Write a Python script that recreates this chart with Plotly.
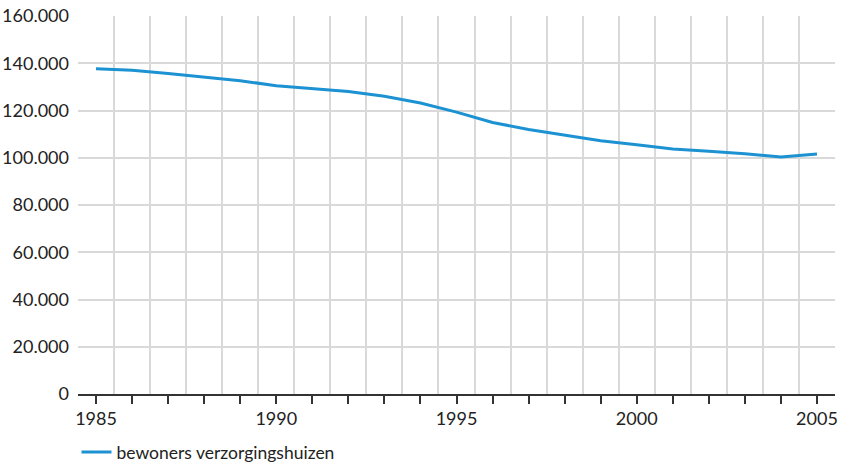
import plotly.graph_objects as go

years = list(range(1985, 2006))
bewoners = [137700, 137000, 135700, 134200, 132600, 130500, 129400, 128000,
            126000, 123200, 119300, 114900, 112000, 109600, 107200, 105500,
            103700, 102700, 101700, 100300, 101600]
year_labels = [str(y) if y % 5 == 0 else "" for y in years]
y_ticks = list(range(0, 160001, 20000))

fig = go.Figure(go.Scatter(
    x=years, y=bewoners, mode="lines", name="bewoners verzorgingshuizen",
    line=dict(color="#1c92d2", width=3),
))

fig.update_layout(
    width=841, height=462, plot_bgcolor="white", paper_bgcolor="white",
    separators=",.",
    font=dict(family="Lato, Open Sans, sans-serif", size=18, color="#222222"),
    margin=dict(l=78, r=6, t=16, b=68, autoexpand=False),
    showlegend=True,
    legend=dict(orientation="h", x=-0.002, xanchor="left", y=-0.106,
                yanchor="top", font=dict(size=17.5), itemwidth=30),
)
fig.update_xaxes(
    range=[1984.5, 2005.5], tickmode="array", tickvals=years,
    ticktext=year_labels, ticks="outside", ticklen=8, tickwidth=1.5,
    tickcolor="#333333", showgrid=False, showline=True, linecolor="#333333",
    linewidth=1.5, zeroline=False, automargin=False,
    minor=dict(tick0=1984.5, dtick=1, showgrid=True, gridcolor="#d9d9d9",
               gridwidth=1.5, ticks=""),
)
fig.update_yaxes(
    range=[0, 160000], tickmode="array", tickvals=y_ticks, tickformat=",d",
    showgrid=True, gridcolor="#d9d9d9", gridwidth=1.5, zeroline=False,
    ticks="", ticklabelstandoff=8, automargin=False,
)

# drop the default 8px page margin so the figure fills the window exactly
fig.write_html("out.html", config={"displayModeBar": False},
               post_script="document.body.style.margin = '0';")
